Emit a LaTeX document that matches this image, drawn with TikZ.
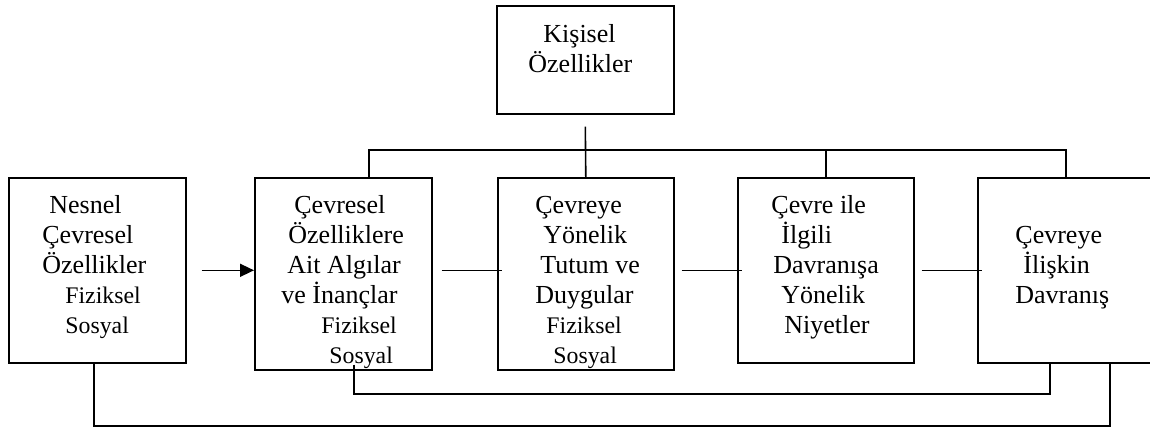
\documentclass[tikz,border=0pt]{standalone}
\usepackage{fontspec}
\setmainfont{Liberation Serif}
\usetikzlibrary{arrows.meta, positioning}
\tikzset{
  kutu/.style={draw, line width=0.8pt, inner sep=0pt, anchor=north west, minimum width=88pt},
  yazi/.style={anchor=base west, inner sep=0pt, align=left, font=\fontsize{13}{15}\selectfont},
  hat/.style={line width=0.8pt},
  ok/.style={line width=0.8pt, -{Triangle[length=7pt,width=6.5pt]}},
}
\newcommand{\altyazi}[1]{{\fontsize{11.9}{15}\selectfont #1}}

\begin{document}
\begin{tikzpicture}[x=0.5pt, y=-0.5pt]
  \useasboundingbox (0,0) rectangle (1150,428);
  \clip (0,0) rectangle (1150,428);

  % kutular
  \node[kutu, minimum width=88.5pt, minimum height=54pt] (kisisel) at (496,5) {};
  \node[kutu, minimum width=88.5pt, minimum height=92.5pt] (nesnel) at (8,177) {};
  \node[kutu, minimum width=88.5pt, minimum height=96pt] (algi) at (254,177) {};
  \node[kutu, minimum height=96pt] (tutum) at (497,177) {};
  \node[kutu, minimum height=92.5pt] (niyet) at (737,177) {};
  \node[kutu, minimum height=92.5pt] (davranis) at (977,177) {};

  % yazilar (son satirin tabani)
  \node[yazi] (y-kisisel) at (528,72) {\hspace*{7.5pt}Kişisel\\Özellikler};
  \node[yazi] (y-nesnel) at (42,333) {\hspace*{3.5pt}Nesnel\\Çevresel\\Özellikler\\
    \hspace*{11.5pt}\altyazi{Fiziksel}\\\hspace*{11.5pt}\altyazi{Sosyal}};
  \node[yazi] (y-algi) at (281,363) {\hspace*{6.5pt}Çevresel\\\hspace*{3.5pt}Özelliklere\\
    \hspace*{3pt}Ait Algılar\\ve İnançlar\\\hspace*{20pt}\altyazi{Fiziksel}\\\hspace*{24pt}\altyazi{Sosyal}};
  \node[yazi] (y-tutum) at (535,363) {Çevreye\\\hspace*{4pt}Yönelik\\\hspace*{2.5pt}Tutum ve\\
    Duygular\\\hspace*{5.5pt}\altyazi{Fiziksel}\\\hspace*{9pt}\altyazi{Sosyal}};
  \node[yazi] (y-niyet) at (771,333) {Çevre ile\\\hspace*{5pt}İlgili\\\hspace*{1pt}Davranışa\\
    \hspace*{5pt}Yönelik\\\hspace*{6.5pt}Niyetler};
  \node[yazi] (y-davranis) at (1015,303) {Çevreye\\\hspace*{4pt}İlişkin\\Davranış};

  % baglantilar
  \draw[hat] ([yshift=-6pt]kisisel.south) -- (tutum.north);
  \coordinate (bolL) at (369,150);
  \coordinate (bolR) at (davranis.north |- bolL);
  \draw[hat] (algi.north -| bolL) -- (bolL) -- (bolR) -- (davranis.north);
  \draw[hat] (niyet.north |- bolL) -- (niyet.north);

  \draw[ok] ([xshift=7.5pt]nesnel.east) -- (algi.west |- nesnel.east);
  \draw[hat] ([xshift=4.5pt]algi.east |- nesnel.east) -- ([xshift=2.5pt]tutum.west |- nesnel.east);
  \draw[hat] ([xshift=3.5pt]tutum.east |- nesnel.east) -- ([xshift=2.5pt]niyet.west |- nesnel.east);
  \draw[hat] ([xshift=3.5pt]niyet.east |- nesnel.east) -- ([xshift=2.5pt]davranis.west |- nesnel.east);

  \coordinate (dongu1) at (0,394);
  \coordinate (dongu2) at (0,426);
  \draw[hat] ([xshift=5.25pt,yshift=3pt]algi.south) |- ([xshift=-8pt]davranis.south |- dongu1)
    -- ([xshift=-8pt]davranis.south);
  \draw[hat] ([xshift=-1.75pt]nesnel.south) |- ([xshift=22pt]davranis.south |- dongu2)
    -- ([xshift=22pt]davranis.south);
\end{tikzpicture}
\end{document}
